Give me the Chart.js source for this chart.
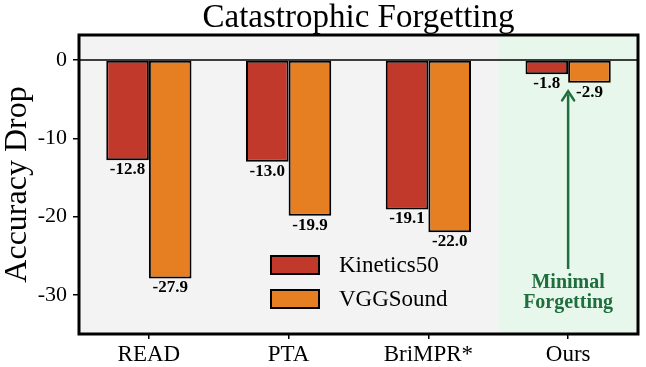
<!DOCTYPE html>
<html>
<head>
<meta charset="utf-8">
<script src="https://cdn.jsdelivr.net/npm/chart.js@4.4.1/dist/chart.umd.min.js"></script>
<style>
    html, body { margin: 0; padding: 0; background: #fff; }
    #chart { display: block; }
</style>
</head>
<body>
<canvas id="chart" width="646" height="367"></canvas>
<script>
const methods = ["READ", "PTA", "BriMPR*", "Ours"];
const kinetics = [-12.8, -13.0, -19.1, -1.8];
const vggsound = [-27.9, -19.9, -22.0, -2.9];
const yTicks = [-30, -20, -10, 0];

const SERIF = "'Liberation Serif', 'DejaVu Serif', serif";
const GREEN = "#1f6e3e";

// 배경(회색 + Ours 영역 초록) 및 0 기준선, 테두리
const backdrop = {
    id: "backdrop",
    beforeDatasetsDraw(chart) {
        const { ctx, chartArea: ca, scales } = chart;
        const split = scales.x.getPixelForValue(2.5);
        ctx.save();
        ctx.fillStyle = "#f3f3f3";
        ctx.fillRect(ca.left, ca.top, split - ca.left, ca.bottom - ca.top);
        ctx.fillStyle = "#e8f7ec";
        ctx.fillRect(split, ca.top, ca.right - split, ca.bottom - ca.top);
        ctx.restore();
    },
    afterDatasetsDraw(chart) {
        const { ctx, chartArea: ca, scales } = chart;
        const y0 = scales.y.getPixelForValue(0);
        ctx.save();
        ctx.strokeStyle = "#000";
        ctx.lineWidth = 1.5;
        ctx.beginPath();
        ctx.moveTo(ca.left, y0);
        ctx.lineTo(ca.right, y0);
        ctx.stroke();
        ctx.lineWidth = 3;
        ctx.strokeRect(ca.left, ca.top, ca.right - ca.left, ca.bottom - ca.top);
        ctx.restore();
    }
};

// 막대 아래 값 표시
const valueLabels = {
    id: "valueLabels",
    afterDatasetsDraw(chart) {
        const { ctx } = chart;
        ctx.save();
        ctx.font = "bold 17px " + SERIF;
        ctx.fillStyle = "#000";
        ctx.textAlign = "center";
        ctx.textBaseline = "top";
        chart.data.datasets.forEach((ds, i) => {
            chart.getDatasetMeta(i).data.forEach((bar, j) => {
                ctx.fillText(ds.data[j].toFixed(1), bar.x, bar.y + 1);
            });
        });
        ctx.restore();
    }
};

// 제목, 범례, 화살표 주석
const overlay = {
    id: "overlay",
    afterDraw(chart) {
        const { ctx, chartArea: ca, scales } = chart;
        ctx.save();

        ctx.fillStyle = "#000";
        ctx.font = "33px " + SERIF;
        ctx.textAlign = "center";
        ctx.textBaseline = "alphabetic";
        ctx.fillText("Catastrophic Forgetting", (ca.left + ca.right) / 2, 27);

        // legend inside plot
        const lx = ca.left + 192, ly = ca.top + 221;
        ctx.font = "23px " + SERIF;
        ctx.textAlign = "left";
        ctx.textBaseline = "middle";
        chart.data.datasets.forEach((ds, i) => {
            const top = ly + i * 34;
            ctx.fillStyle = ds.backgroundColor;
            ctx.fillRect(lx, top, 48, 18);
            ctx.strokeStyle = "#000";
            ctx.lineWidth = 2;
            ctx.strokeRect(lx, top, 48, 18);
            ctx.fillStyle = "#000";
            ctx.fillText(ds.label, lx + 68, top + 10);
        });

        // arrow to "Ours"
        const ax = scales.x.getPixelForValue(3);
        const tip = scales.y.getPixelForValue(-4);
        const tail = scales.y.getPixelForValue(-26.7);
        ctx.strokeStyle = GREEN;
        ctx.fillStyle = GREEN;
        ctx.lineWidth = 2.5;
        ctx.beginPath();
        ctx.moveTo(ax, tail);
        ctx.lineTo(ax, tip + 3);
        ctx.stroke();
        ctx.lineCap = "round";
        ctx.beginPath();
        ctx.moveTo(ax - 6, tip + 9);
        ctx.lineTo(ax, tip);
        ctx.lineTo(ax + 6, tip + 9);
        ctx.stroke();

        ctx.font = "bold 20px " + SERIF;
        ctx.textAlign = "center";
        ctx.textBaseline = "middle";
        ctx.fillText("Minimal", ax, scales.y.getPixelForValue(-28.4));
        ctx.fillText("Forgetting", ax, scales.y.getPixelForValue(-31.0));
        ctx.restore();
    }
};

new Chart(document.getElementById("chart"), {
    type: "bar",
    data: {
        labels: methods,
        datasets: [
            {
                label: "Kinetics50",
                data: kinetics,
                backgroundColor: "#c1392b",
                borderColor: "#000",
                borderWidth: 2,
                borderSkipped: false,
            },
            {
                label: "VGGSound",
                data: vggsound,
                backgroundColor: "#e67e22",
                borderColor: "#000",
                borderWidth: 2,
                borderSkipped: false,
            }
        ]
    },
    options: {
        responsive: false,
        animation: false,
        events: [],
        datasets: {
            bar: { barPercentage: 1, categoryPercentage: 0.61 }
        },
        layout: { padding: { top: 35, right: 8, left: 0, bottom: 0 } },
        plugins: {
            legend: { display: false },
            title: { display: false },
            tooltip: { enabled: false }
        },
        scales: {
            x: {
                offset: true,
                grid: {
                    offset: false,
                    drawOnChartArea: false,
                    color: "#000",
                    lineWidth: 1.5,
                    tickLength: 5
                },
                border: { display: false },
                ticks: {
                    color: "#000",
                    padding: 2,
                    font: { family: SERIF, size: 23 }
                },
                afterFit(scale) { scale.height = 33; }
            },
            y: {
                min: -35,
                max: 3.2,
                afterBuildTicks(scale) {
                    scale.ticks = yTicks.map(v => ({ value: v }));
                },
                grid: {
                    drawOnChartArea: false,
                    color: "#000",
                    lineWidth: 1.5,
                    tickLength: 6
                },
                border: { display: false },
                ticks: {
                    color: "#000",
                    padding: 6,
                    font: { family: SERIF, size: 22 },
                    callback: v => (v < 0 ? "-" + Math.abs(v) : String(v))
                },
                title: {
                    display: true,
                    text: "Accuracy Drop",
                    color: "#000",
                    padding: 0,
                    font: { family: SERIF, size: 32, lineHeight: 1.1 }
                },
                afterFit(scale) { scale.width = 79; }
            }
        }
    },
    plugins: [backdrop, valueLabels, overlay]
});
</script>
</body>
</html>
